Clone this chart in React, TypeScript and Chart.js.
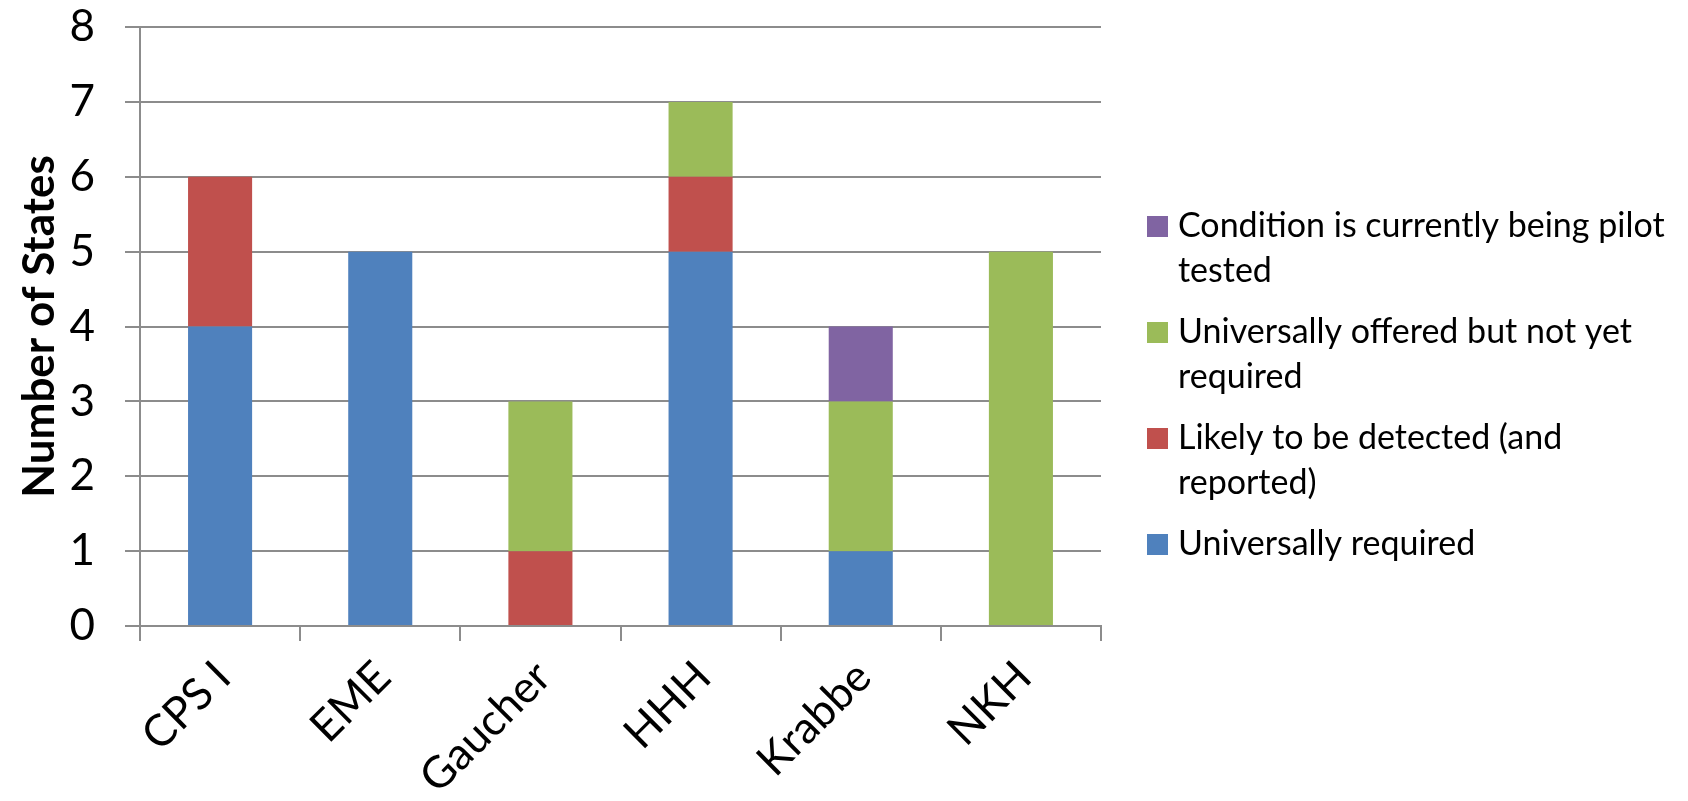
import React, { useEffect, useRef } from 'react';
import { Chart, registerables } from 'chart.js';

Chart.register(...registerables);

const categories = ['CPS I', 'EME', 'Gaucher', 'HHH', 'Krabbe', 'NKH'];
const universallyRequired = [4, 5, 0, 5, 1, 0];
const likelyDetected = [2, 0, 1, 1, 0, 0];
const universallyOffered = [0, 0, 2, 1, 2, 5];
const pilotTested = [0, 0, 0, 0, 1, 0];

const seriesNames = [
  'Universally required',
  'Likely to be detected (and reported)',
  'Universally offered but not yet required',
  'Condition is currently being pilot tested',
];
const legendLines = [
  ['Universally required'],
  ['Likely to be detected (and', 'reported)'],
  ['Universally offered but not yet', 'required'],
  ['Condition is currently being pilot', 'tested'],
];
const seriesColors = ['#4F81BD', '#C0504D', '#9BBB59', '#8064A2'];
const yTitle = 'Number of States';
const yMin = 0;
const yMax = 8;
const yStep = 1;

const FONT = 'Lato, "Open Sans", sans-serif';
const GRID = '#8c8c8c';

const sideLegend = {
  id: 'sideLegend',
  afterDraw(chart: any) {
    const { ctx, chartArea } = chart;
    const ds = chart.data.datasets;
    const boxX = chartArea.right + 46;
    const box = 21;
    const textX = boxX + 31;
    const lineH = 45;
    const itemStep = 106;
    let baseline = 237;
    ctx.save();
    ctx.font = `34px ${FONT}`;
    ctx.textAlign = 'left';
    ctx.textBaseline = 'alphabetic';
    for (let i = ds.length - 1; i >= 0; i--) {
      ctx.fillStyle = ds[i].backgroundColor;
      ctx.fillRect(boxX, baseline - box, box, box);
      ctx.fillStyle = '#000';
      legendLines[i].forEach((line, j) => ctx.fillText(line, textX, baseline + j * lineH));
      baseline += itemStep;
    }
    ctx.restore();
  },
};

export default function App() {
  const ref = useRef<HTMLCanvasElement>(null);
  useEffect(() => {
    if (!ref.current) return;
    const values = [universallyRequired, likelyDetected, universallyOffered, pilotTested];
    const chart = new Chart(ref.current, {
      type: 'bar',
      data: {
        labels: categories,
        datasets: values.map((v, i) => ({
          label: seriesNames[i],
          data: v,
          backgroundColor: seriesColors[i],
          borderWidth: 0,
          barPercentage: 0.4,
          categoryPercentage: 1,
        })),
      },
      options: {
        responsive: false,
        animation: false,
        layout: { padding: { left: 0, right: 587, top: 27, bottom: 0 } },
        plugins: {
          legend: { display: false },
          tooltip: { enabled: false },
        },
        scales: {
          x: {
            stacked: true,
            offset: true,
            afterFit: (scale: any) => {
              scale.height = 175;
              scale.paddingLeft = 0;
              scale.paddingRight = 0;
            },
            grid: {
              display: true,
              drawOnChartArea: false,
              drawTicks: true,
              tickLength: 15,
              color: GRID,
              lineWidth: 2,
              offset: true,
            },
            border: { display: true, color: GRID, width: 2 },
            ticks: {
              color: '#000',
              font: { family: FONT, size: 44 },
              minRotation: 45,
              maxRotation: 45,
              padding: 10,
              labelOffset: 3,
              autoSkip: false,
            },
          },
          y: {
            stacked: true,
            min: yMin,
            max: yMax,
            afterFit: (scale: any) => {
              scale.width = 140;
              scale.paddingTop = 0;
              scale.paddingBottom = 0;
            },
            grid: {
              color: GRID,
              lineWidth: 2,
              drawTicks: true,
              tickLength: 15,
            },
            border: { display: true, color: GRID, width: 2 },
            ticks: {
              stepSize: yStep,
              color: '#000',
              font: { family: FONT, size: 44 },
              padding: 30,
            },
            title: {
              display: true,
              text: yTitle,
              color: '#000',
              font: { family: FONT, size: 44, weight: 'bold' },
              padding: { top: 13, bottom: 0 },
            },
          },
        },
      },
      plugins: [sideLegend],
    });
    return () => chart.destroy();
  }, []);
  return (
    <div style={{ position: 'absolute', left: 0, top: 0, width: 1688, height: 801, background: '#fff' }}>
      <canvas ref={ref} width={1688} height={801} style={{ display: 'block' }} />
    </div>
  );
}
